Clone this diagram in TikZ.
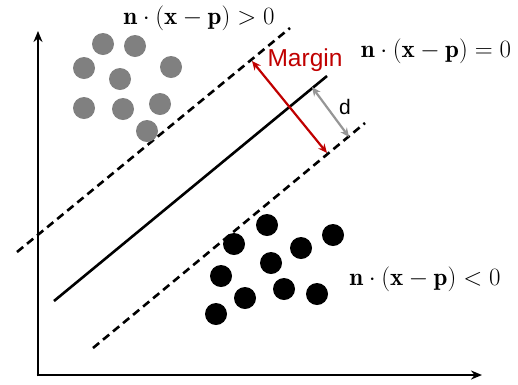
\documentclass[tikz,border=0pt]{standalone}
\usepackage{fontspec}
\newfontfamily\labfont{Liberation Sans}
\usetikzlibrary{arrows.meta}
\definecolor{mred}{RGB}{192,0,0}
\definecolor{dotgray}{RGB}{128,128,128}
\definecolor{dgray}{RGB}{150,150,150}
\tikzset{
  axis/.style={line width=2.6pt,-{Stealth[length=11pt,width=9pt]}},
  sepline/.style={line width=2.6pt},
  dashline/.style={line width=2.6pt,dash pattern=on 8pt off 5pt},
  gdot/.style={circle,fill=dotgray,inner sep=0pt,minimum size=22pt},
  bdot/.style={circle,fill=black,inner sep=0pt,minimum size=22pt},
  mathlab/.style={font=\fontsize{25}{30}\selectfont,inner sep=0pt},
  marginarrow/.style={mred,line width=2.2pt,{Stealth[length=9pt,width=8pt]}-{Stealth[length=9pt,width=8pt]}},
  darrow/.style={dgray,line width=2.2pt,{Stealth[length=9pt,width=8pt]}-{Stealth[length=9pt,width=8pt]}}
}
\begin{document}
\begin{tikzpicture}[x=1pt,y=-1pt]
\useasboundingbox (0,0) rectangle (518,384);
% axes
\coordinate (O) at (38,375);
\coordinate (Ytop) at (38,31);
\coordinate (Xend) at (482,375);
\draw[axis] ([yshift=-1.3pt]O) -- (Ytop);
\draw[axis] ([xshift=-1.3pt]O) -- (Xend);
% lines
\coordinate (u1) at (17,252);
\coordinate (u2) at (290,28);
\coordinate (s1) at (54,301);
\coordinate (s2) at (327,76);
\coordinate (l1) at (93,348);
\coordinate (l2) at (365,123);
\draw[dashline] (u1) -- (u2);
\draw[sepline] (s1) -- (s2);
\draw[dashline] (l1) -- (l2);
% gray dots
\foreach \n/\x/\y in {g1/103/44,g2/135/46,g3/84/68,g4/120/79,g5/171/67,g6/84/108,g7/123/109,g8/160/104,g9/147/131}
  \node[gdot] (\n) at (\x,\y) {};
% black dots
\foreach \n/\x/\y in {b1/234/244,b2/267/225,b3/333/235,b4/301/248,b5/271/263,b6/221/276,b7/245/298,b8/284/289,b9/317/294,b10/216/314}
  \node[bdot] (\n) at (\x,\y) {};
% margin arrow
\coordinate (m1) at (252,61);
\coordinate (m2) at (327,153);
\draw[marginarrow] (m1) -- (m2);
\node[text=mred,font=\labfont\fontsize{24.5}{28}\selectfont,inner sep=0pt] (margin) at (305,60) {Margin};
% d arrow
\coordinate (d1) at (312,87);
\coordinate (d2) at (349,137);
\draw[darrow] (d1) -- (d2);
\node[font=\labfont\fontsize{21}{24}\selectfont,inner sep=0pt] (dlab) at (345,107) {d};
% math labels
\node[mathlab] (pos) at (199,18) {$\mathbf{n}\cdot(\mathbf{x}-\mathbf{p})>0$};
\node[mathlab] (zero) at (436,51) {$\mathbf{n}\cdot(\mathbf{x}-\mathbf{p})=0$};
\node[mathlab] (neg) at (425,279) {$\mathbf{n}\cdot(\mathbf{x}-\mathbf{p})<0$};
\end{tikzpicture}
\end{document}
